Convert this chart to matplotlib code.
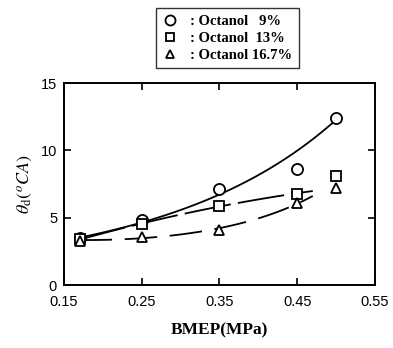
import numpy as np
import matplotlib
matplotlib.use("Agg")
import matplotlib.pyplot as plt

# data
bmep = [0.17, 0.25, 0.35, 0.45, 0.50]
oct9 = [3.5, 4.8, 7.1, 8.6, 12.4]
oct13 = [3.4, 4.5, 5.9, 6.8, 8.1]
oct167 = [3.3, 3.6, 4.1, 6.1, 7.2]
labels = [": Octanol   9%", ": Octanol  13%", ": Octanol 16.7%"]
xticks = [0.15, 0.25, 0.35, 0.45, 0.55]
yticks = [0, 5, 10, 15]

plt.rcParams['font.family'] = 'Liberation Sans'
plt.rcParams['mathtext.fontset'] = 'stix'

fig = plt.figure(figsize=(3.93, 3.48), dpi=100)
ax = fig.add_axes([0.163, 0.181, 0.791, 0.580])

x = np.array(bmep)
# trend curves fitted to the points
c1 = np.polyfit(x, np.log(oct9), 2, w=[2, 1, 1, 1, 3])
xx1 = np.linspace(0.17, 0.495, 100)
ax.plot(xx1, np.exp(np.polyval(c1, xx1)), color='k', lw=1.3)

c2 = np.polyfit(x[:4], oct13[:4], 2)
xx2 = np.linspace(0.17, 0.47, 100)
ax.plot(xx2, np.polyval(c2, xx2), color='k', lw=1.3, dashes=(26, 4))

c3 = np.polyfit(x[:4], np.log(oct167[:4]), 2)
xx3 = np.linspace(0.17, 0.47, 100)
ax.plot(xx3, np.exp(np.polyval(c3, xx3)), color='k', lw=1.3, dashes=(18, 7))

h1, = ax.plot(bmep, oct9, 'o', mfc='white', mec='k', ms=8, mew=1.3, ls='none')
h2, = ax.plot(bmep, oct13, 's', mfc='white', mec='k', ms=7, mew=1.3, ls='none')
h3, = ax.plot(bmep, oct167, '^', mfc='white', mec='k', ms=7, mew=1.3, ls='none')

ax.set_xlim(0.15, 0.55)
ax.set_ylim(0, 15)
ax.set_xticks(xticks)
ax.set_xticklabels(['0.15', '0.25', '0.35', '0.45', '0.55'])
ax.set_yticks(yticks)
ax.tick_params(direction='in', top=True, right=True, length=5, width=1.2,
               labelsize=10.5)
ax.tick_params(axis='x', pad=7)
ax.tick_params(axis='y', pad=5)
for s in ax.spines.values():
    s.set_linewidth(1.4)

ax.set_xlabel('BMEP(MPa)', family='Liberation Serif', fontweight='bold',
              fontsize=12.5, labelpad=10)
ax.set_ylabel(r'$\theta_{\rm d}(^{o}CA)$', fontsize=13, labelpad=5)

leg = fig.legend([h1, h2, h3], labels, loc='upper left',
                 bbox_to_anchor=(0.378, 0.997), frameon=True, fancybox=False,
                 edgecolor='k', handlelength=1.0, handletextpad=0.9,
                 borderpad=0.45, labelspacing=0.25, markerscale=0.9,
                 prop={'family': 'Liberation Serif', 'weight': 'bold', 'size': 10.5})
leg.get_frame().set_linewidth(1.0)

fig.savefig('out.png', dpi=100)
